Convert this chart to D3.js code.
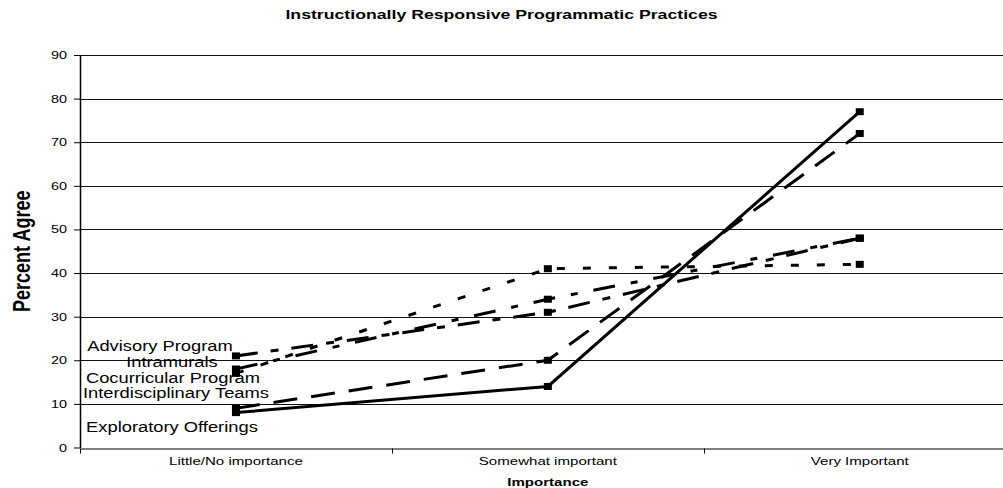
<!DOCTYPE html>
<html><head><meta charset="utf-8">
<script src="https://cdn.jsdelivr.net/npm/d3@7"></script>
<style>
html,body{margin:0;padding:0;background:#fff;overflow:hidden;}
svg{display:block;}
text{font-family:"Liberation Sans", Arial, sans-serif;fill:#000;}
</style></head><body>
<svg id="chart" width="1003" height="488"></svg>
<script>
// ---- data ----
const categories = ["Little/No importance", "Somewhat important", "Very Important"];
const seriesNames = ["Advisory Program", "Intramurals", "Cocurricular Program", "Interdisciplinary Teams", "Exploratory Offerings"];
const advisoryProgram = [21, 31, 48];
const intramurals = [18, 34, 48];
const cocurricularProgram = [17, 41, 42];
const interdisciplinaryTeams = [9, 20, 72];
const exploratoryOfferings = [8, 14, 77];
const yTicks = [0, 10, 20, 30, 40, 50, 60, 70, 80, 90];
const chartTitle = "Instructionally Responsive Programmatic Practices";
const xTitle = "Importance";
const yTitle = "Percent Agree";

// ---- layout / style ----
const W = 1003, H = 488;
const K = 1.31; // horizontal stretch of text
const plot = {left: 80, right: 1015.7, top: 55, bottom: 447.5};
const dashes = ["22,13,8,13", "22,16,7,16", "8,18", "24,14", null];
const labelOffsets = [[-76, -5], [-64, -2], [-63, 10], [-60, -10], [-64, 19]];

const seriesValues = [advisoryProgram, intramurals, cocurricularProgram, interdisciplinaryTeams, exploratoryOfferings];
const series = seriesNames.map((n, i) => ({name: n, values: seriesValues[i], dash: dashes[i], off: labelOffsets[i]}));

const svg = d3.select("#chart");
const x = d3.scaleBand().domain(categories).range([plot.left, plot.right]).padding(0);
const y = d3.scaleLinear().domain([0, 90]).range([plot.bottom, plot.top]);
const cx = c => x(c) + x.bandwidth() / 2;
const crisp = v => Math.round(v) + 0.5;

// gridlines
svg.append("g").selectAll("line").data(yTicks.filter(t => t > 0)).join("line")
  .attr("x1", plot.left).attr("x2", W)
  .attr("y1", d => crisp(y(d))).attr("y2", d => crisp(y(d)))
  .attr("stroke", "#111").attr("stroke-width", 1).attr("shape-rendering", "crispEdges");

// y axis
const yAxis = svg.append("g").attr("transform", `translate(${plot.left},0)`)
  .call(d3.axisLeft(y).tickValues(yTicks).tickSize(6).tickSizeOuter(0));
yAxis.select(".domain").attr("stroke", "#000").attr("stroke-width", 1.5);
yAxis.selectAll(".tick line").attr("stroke", "#000").attr("stroke-width", 1);
yAxis.selectAll(".tick text").attr("x", -13 / K).attr("transform", `scale(${K},1)`)
  .attr("font-size", 11).attr("font-family", '"Liberation Sans", Arial, sans-serif');

// x axis
const xAxis = svg.append("g").attr("transform", `translate(0,${crisp(plot.bottom)})`)
  .call(d3.axisBottom(x).tickSize(0).tickPadding(8).tickSizeOuter(0));
xAxis.select(".domain").attr("stroke", "#000").attr("stroke-width", 1.2);
xAxis.selectAll(".tick text").attr("transform", `scale(${K},1)`)
  .attr("font-size", 11.5).attr("font-family", '"Liberation Sans", Arial, sans-serif');
// boundary ticks between categories
const bounds = categories.map(c => x(c)).concat([x(categories[categories.length - 1]) + x.bandwidth()]);
xAxis.append("g").selectAll("line").data(bounds).join("line")
  .attr("x1", d => crisp(d)).attr("x2", d => crisp(d)).attr("y1", 0).attr("y2", 5)
  .attr("stroke", "#000").attr("stroke-width", 1);

// lines
const line = d3.line().x((d, i) => cx(categories[i])).y(d => y(d));
const g = svg.append("g");
g.selectAll("path.series").data(series).join("path").attr("class", "series")
  .attr("d", d => line(d.values)).attr("fill", "none").attr("stroke", "#000")
  .attr("stroke-width", 3).attr("stroke-dasharray", d => d.dash)
  .attr("stroke-linejoin", "miter");

// markers
series.forEach(s => {
  g.append("g").selectAll("rect").data(s.values).join("rect")
    .attr("x", (d, i) => cx(categories[i]) - 4).attr("y", d => y(d) - 3.5)
    .attr("width", 8).attr("height", 7).attr("fill", "#000");
});

// data labels
svg.append("g").selectAll("text").data(series).join("text")
  .attr("transform", d => `translate(${cx(categories[0]) + d.off[0]},${y(d.values[0]) + d.off[1]}) scale(${K},1)`)
  .attr("text-anchor", "middle").attr("font-size", 14).text(d => d.name);

// titles
svg.append("text").attr("transform", `translate(${W / 2},19) scale(${K},1)`)
  .attr("text-anchor", "middle").attr("font-size", 13.5).attr("font-weight", "bold").text(chartTitle);
svg.append("text").attr("transform", `translate(${(plot.left + plot.right) / 2},486) scale(${K},1)`)
  .attr("text-anchor", "middle").attr("font-size", 11.5).attr("font-weight", "bold").text(xTitle);
svg.append("text").attr("transform", `translate(30,${(plot.top + plot.bottom) / 2}) scale(${K},1) rotate(-90)`)
  .attr("text-anchor", "middle").attr("font-size", 18).attr("font-weight", "bold").text(yTitle);
</script>
</body></html>
